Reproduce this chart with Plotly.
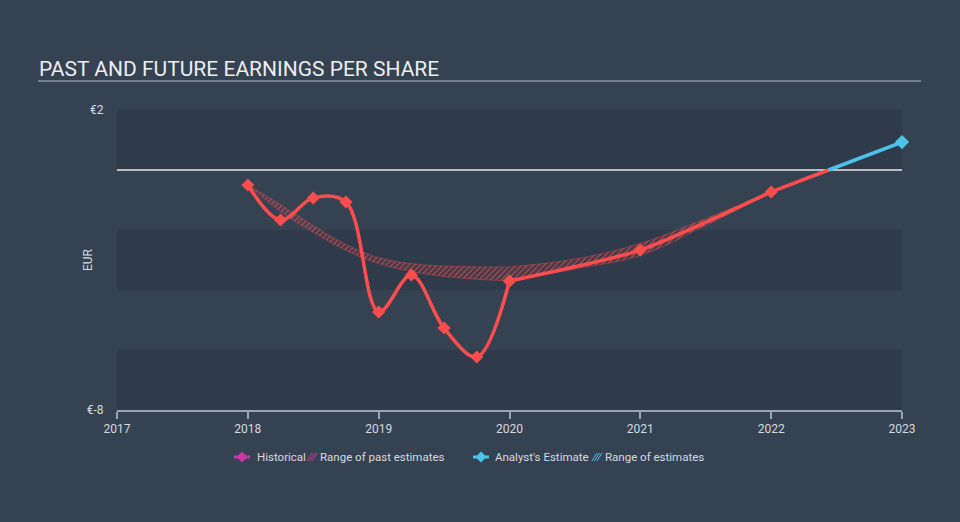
import plotly.graph_objects as go

# ---------------- data ----------------
hist_x = [2018, 2018.25, 2018.5, 2018.75, 2019, 2019.25, 2019.5, 2019.75, 2020]
hist_y = [-0.5, -1.67, -0.93, -1.07, -4.73, -3.5, -5.27, -6.23, -3.7]

est_x = [2020, 2021, 2022, 2023]
est_y = [-3.7, -2.67, -0.73, 0.93]

past_rng_x = [2018, 2018.25, 2018.5, 2018.75, 2019, 2019.25, 2019.5, 2019.75, 2020]
past_rng_hi = [-0.5, -1.15, -1.85, -2.48, -2.92, -3.12, -3.2, -3.23, -3.23]
past_rng_lo = [-0.5, -1.38, -2.08, -2.68, -3.12, -3.38, -3.55, -3.64, -3.7]

fut_rng_x = [2020, 2020.5, 2021, 2021.5, 2022]
fut_rng_hi = [-3.23, -2.97, -2.45, -1.62, -0.73]
fut_rng_lo = [-3.7, -3.3, -2.85, -1.85, -0.73]

x_ticks = [2017, 2018, 2019, 2020, 2021, 2022, 2023]
y_ticks = [-8, 2]
y_ticktext = ["€-8", "€2"]

RED = "#ff4d4d"
BLUE = "#4cc3e8"
MAGENTA = "#c63aa7"
PAPER = "#354252"
BAND = "#2f3b4b"
TXT = "#d6dadf"
FONT = "Roboto"

W, H = 960, 522
L, R, T, B = 117, 58, 110, 112
PW, PH = W - L - R, H - T - B


def px(x):
    return (x - L) / PW


def py(y):
    return (H - B - y) / PH


fig = go.Figure()

HATCH = dict(shape="/", fgcolor=RED, bgcolor="rgba(0,0,0,0)", size=4, solidity=0.5)
EDGE = dict(color="rgba(255,77,77,0.6)", width=0.6, shape="spline")

# range of past estimates (hatched)
fig.add_trace(go.Scatter(x=past_rng_x, y=past_rng_hi, mode="lines", line=EDGE,
                         hoverinfo="skip", showlegend=False))
fig.add_trace(go.Scatter(x=past_rng_x, y=past_rng_lo, mode="lines", fill="tonexty",
                         line=EDGE, fillcolor="rgba(0,0,0,0)", fillpattern=HATCH,
                         hoverinfo="skip", showlegend=False))
# range of future estimates (hatched)
fig.add_trace(go.Scatter(x=fut_rng_x, y=fut_rng_hi, mode="lines", line=EDGE,
                         hoverinfo="skip", showlegend=False))
fig.add_trace(go.Scatter(x=fut_rng_x, y=fut_rng_lo, mode="lines", fill="tonexty",
                         line=EDGE, fillcolor="rgba(0,0,0,0)", fillpattern=HATCH,
                         hoverinfo="skip", showlegend=False))

# historical line (negative -> red)
fig.add_trace(go.Scatter(x=hist_x, y=hist_y, mode="lines+markers",
                         line=dict(color=RED, width=3.5, shape="spline", smoothing=1),
                         marker=dict(symbol="diamond", size=10, color=RED),
                         cliponaxis=False, showlegend=False))

# estimate line: red while negative, blue once positive
neg_x = [x for x, y in zip(est_x, est_y) if y < 0]
neg_y = [y for y in est_y if y < 0]
i = len(neg_x) - 1
x0, y0, x1, y1 = est_x[i], est_y[i], est_x[i + 1], est_y[i + 1]
x_cross = x0 + (0 - y0) * (x1 - x0) / (y1 - y0)

fig.add_trace(go.Scatter(x=neg_x, y=neg_y, mode="lines+markers",
                         line=dict(color=RED, width=3.5, shape="spline", smoothing=0.6),
                         marker=dict(symbol="diamond", size=10, color=RED),
                         cliponaxis=False, showlegend=False))
fig.add_trace(go.Scatter(x=[x0, x_cross], y=[y0, 0], mode="lines",
                         line=dict(color=RED, width=3.5),
                         cliponaxis=False, showlegend=False))
fig.add_trace(go.Scatter(x=[x_cross] + est_x[i + 1:], y=[0] + est_y[i + 1:], mode="lines",
                         line=dict(color=BLUE, width=3.5),
                         cliponaxis=False, showlegend=False))
fig.add_trace(go.Scatter(x=est_x[i + 1:], y=est_y[i + 1:], mode="markers",
                         marker=dict(symbol="diamond", size=11, color=BLUE),
                         cliponaxis=False, showlegend=False))

shapes = []
# darker bands
for lo, hi in [(-8, -6), (-4, -2), (0, 2)]:
    shapes.append(dict(type="rect", xref="paper", yref="y", x0=0, x1=1, y0=lo, y1=hi,
                       fillcolor=BAND, line=dict(width=0), layer="below"))
# zero line
shapes.append(dict(type="line", xref="paper", yref="y", x0=0, x1=1, y0=0, y1=0,
                   line=dict(color="#e6e8ea", width=1.5), layer="below"))
# title underline
shapes.append(dict(type="line", xref="paper", yref="paper", x0=px(38), x1=px(921),
                   y0=py(81), y1=py(81), line=dict(color="#b9c0c8", width=1.2)))


def legend_marker(cx, cy, color):
    out = [dict(type="line", xref="paper", yref="paper", x0=px(cx - 8), x1=px(cx + 8),
                y0=py(cy), y1=py(cy), line=dict(color=color, width=3))]
    d = 5.5
    path = "M {} {} L {} {} L {} {} L {} {} Z".format(
        px(cx - d), py(cy), px(cx), py(cy - d), px(cx + d), py(cy), px(cx), py(cy + d))
    out.append(dict(type="path", xref="paper", yref="paper", path=path,
                    fillcolor=color, line=dict(color=color, width=0)))
    return out


def legend_hatch(cx, cy, color):
    out = []
    for dx in (-2.5, 0, 2.5):
        out.append(dict(type="line", xref="paper", yref="paper",
                        x0=px(cx + dx - 2.5), x1=px(cx + dx + 2.5),
                        y0=py(cy + 4), y1=py(cy - 4),
                        line=dict(color=color, width=1)))
    return out


shapes += legend_marker(242, 457, MAGENTA)
shapes += legend_hatch(312, 457, MAGENTA)
shapes += legend_marker(481, 457, BLUE)
shapes += legend_hatch(597, 457, BLUE)

annotations = [
    dict(text="PAST AND FUTURE EARNINGS PER SHARE", xref="paper", yref="paper",
         x=px(37), y=py(69), xanchor="left", yanchor="middle", showarrow=False,
         font=dict(family=FONT, size=21, color="#eceef0")),
    dict(text="EUR", xref="paper", yref="paper", x=px(88), y=py(260), textangle=-90,
         xanchor="center", yanchor="middle", showarrow=False,
         font=dict(family=FONT, size=12, color=TXT)),
]
for txt, x in [("Historical", 255), ("Range of past estimates", 318),
               ("Analyst's Estimate", 493), ("Range of estimates", 603)]:
    annotations.append(dict(text=txt, xref="paper", yref="paper", x=px(x), y=py(457),
                            xanchor="left", yanchor="middle", showarrow=False,
                            font=dict(family=FONT, size=11.5, color=TXT)))

fig.update_layout(
    width=W, height=H,
    margin=dict(l=L, r=R, t=T, b=B),
    paper_bgcolor=PAPER, plot_bgcolor=PAPER,
    showlegend=False,
    shapes=shapes, annotations=annotations,
    font=dict(family=FONT, size=12, color=TXT),
    xaxis=dict(range=[2017, 2023], tickvals=x_ticks, ticktext=[str(v) for v in x_ticks],
               showgrid=False, zeroline=False, showline=True, linecolor="#98a6b5",
               linewidth=1.5, ticks="outside", ticklen=7, tickwidth=1.5, tickcolor="#98a6b5",
               tickfont=dict(family=FONT, size=12, color=TXT), fixedrange=True),
    yaxis=dict(range=[-8, 2], tickvals=y_ticks, ticktext=y_ticktext, showgrid=False,
               zeroline=False, showline=False, ticks="outside", ticklen=10,
               tickcolor="rgba(0,0,0,0)", tickfont=dict(family=FONT, size=12, color=TXT),
               fixedrange=True),
)

fig.write_html("out.html")
